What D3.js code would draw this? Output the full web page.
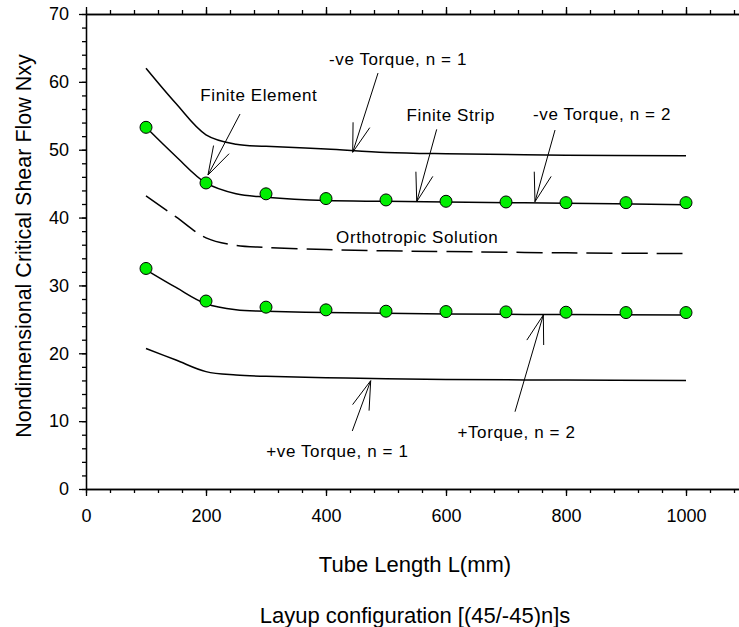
<!DOCTYPE html>
<html>
<head>
<meta charset="utf-8">
<script src="https://cdnjs.cloudflare.com/ajax/libs/d3/7.8.5/d3.min.js"></script>
<style>
  body { margin: 0; background: #fff; }
  svg { display: block; font-family: "Liberation Sans", Arial, sans-serif; }
  .axis path, .axis line { stroke: #000; stroke-width: 1.3; }
  .axis text { font-size: 18px; fill: #000; }
</style>
</head>
<body>
<svg id="chart" width="739" height="627"></svg>
<script>
// tube lengths used for the smooth curves
var curveX = [100, 150, 200, 250, 300, 400, 500, 600, 800, 1000];
var negTorque1 = [62.0, 56.8, 52.2, 50.8, 50.5, 50.1, 49.6, 49.4, 49.2, 49.1];
var negTorque2 = [53.3, 49.0, 45.1, 43.5, 43.0, 42.5, 42.4, 42.3, 42.1, 41.9];
var orthotropic = [43.2, 40.1, 37.0, 35.9, 35.6, 35.3, 35.1, 35.0, 34.8, 34.7];
var posTorque2 = [32.3, 29.7, 27.3, 26.4, 26.2, 26.0, 25.9, 25.8, 25.7, 25.65];
var posTorque1 = [20.7, 19.0, 17.3, 16.8, 16.6, 16.4, 16.25, 16.15, 16.05, 16.0];

// finite element results
var feX = [100, 200, 300, 400, 500, 600, 700, 800, 900, 1000];
var feNeg2 = [53.3, 45.1, 43.5, 42.8, 42.6, 42.4, 42.3, 42.2, 42.2, 42.2];
var fePos2 = [32.5, 27.7, 26.8, 26.4, 26.2, 26.15, 26.1, 26.05, 26.0, 26.0];

var xTicks = [0, 200, 400, 600, 800, 1000];
var yTicks = [0, 10, 20, 30, 40, 50, 60, 70];

// labels: text, x, y (data units, baseline centre)
var labels = [
    {text: '-ve Torque, n = 1', x: 520, y: 62.5},
    {text: 'Finite Element', x: 288, y: 57.25},
    {text: 'Finite Strip', x: 608, y: 54.3},
    {text: '-ve Torque, n = 2', x: 860, y: 54.4},
    {text: 'Orthotropic Solution', x: 552, y: 36.25},
    {text: '+ve Torque, n = 1', x: 419, y: 4.76},
    {text: '+Torque, n = 2', x: 717.5, y: 7.47}
];
// arrows: tail -> tip, data units
var arrows = [
    [256.7, 55.26, 203.3, 46.27],
    [486.7, 61.3, 444.5, 49.62],
    [584.5, 53.0, 551.2, 42.34],
    [781.7, 52.9, 748.3, 42.34],
    [443.8, 8.55, 474.5, 15.96],
    [715, 11.39, 762.2, 25.64]
];

var svg = d3.select('#chart');

var x = d3.scaleLinear().domain([0, 1100]).range([86, 746]),
    y = d3.scaleLinear().domain([0, 70]).range([489, 14]);

var minorX = d3.range(0, 1101, 40),
    minorY = d3.range(0, 71, 2);

// minor ticks
svg.append('g').attr('class', 'axis').attr('transform', 'translate(0,489)')
    .call(d3.axisBottom(x).tickValues(minorX).tickSize(4).tickSizeOuter(0).tickFormat(''));
svg.append('g').attr('class', 'axis').attr('transform', 'translate(0,14)')
    .call(d3.axisTop(x).tickValues(minorX).tickSize(4).tickSizeOuter(0).tickFormat(''));
svg.append('g').attr('class', 'axis').attr('transform', 'translate(86,0)')
    .call(d3.axisLeft(y).tickValues(minorY).tickSize(4).tickSizeOuter(0).tickFormat(''));

// major ticks
svg.append('g').attr('class', 'axis').attr('transform', 'translate(0,489)')
    .call(d3.axisBottom(x).tickValues(xTicks).tickSize(7).tickSizeOuter(0)
        .tickPadding(13).tickFormat(d3.format('d')));
svg.append('g').attr('class', 'axis').attr('transform', 'translate(0,14)')
    .call(d3.axisTop(x).tickValues(xTicks).tickSize(7).tickSizeOuter(0).tickFormat(''));
svg.append('g').attr('class', 'axis').attr('transform', 'translate(86,0)')
    .call(d3.axisLeft(y).tickValues(yTicks).tickSize(7).tickSizeOuter(0)
        .tickPadding(10).tickFormat(d3.format('d')));

svg.selectAll('.axis text').attr('font-family', null);

// curves
var line = d3.line()
    .x(function(d, i) { return x(curveX[i]); })
    .y(function(d) { return y(d); })
    .curve(d3.curveCatmullRom.alpha(0.5));

[negTorque1, negTorque2, posTorque2, posTorque1].forEach(function(s) {
    svg.append('path')
        .attr('d', line(s))
        .attr('fill', 'none')
        .attr('stroke', '#000')
        .attr('stroke-width', 1.5);
});

svg.append('path')
    .attr('d', line(orthotropic))
    .attr('fill', 'none')
    .attr('stroke', '#000')
    .attr('stroke-width', 1.5)
    .attr('stroke-dasharray', '26,9');

// finite element points
[feNeg2, fePos2].forEach(function(s) {
    svg.append('g').selectAll('circle')
        .data(s)
        .enter().append('circle')
        .attr('cx', function(d, i) { return x(feX[i]); })
        .attr('cy', function(d) { return y(d); })
        .attr('r', 6)
        .attr('fill', '#00ee00')
        .attr('stroke', '#000')
        .attr('stroke-width', 1);
});

// arrows with open heads
var headLen = 30, headAng = 17 * Math.PI / 180;
arrows.forEach(function(a) {
    var x0 = x(a[0]), y0 = y(a[1]), x1 = x(a[2]), y1 = y(a[3]);
    var ang = Math.atan2(y0 - y1, x0 - x1);
    var g = svg.append('g').attr('stroke', '#000').attr('stroke-width', 1);
    g.append('line').attr('x1', x0).attr('y1', y0).attr('x2', x1).attr('y2', y1);
    [-1, 1].forEach(function(s) {
        g.append('line')
            .attr('x1', x1).attr('y1', y1)
            .attr('x2', x1 + headLen * Math.cos(ang + s * headAng))
            .attr('y2', y1 + headLen * Math.sin(ang + s * headAng));
    });
});

svg.append('g').selectAll('text')
    .data(labels)
    .enter().append('text')
    .attr('x', function(d) { return x(d.x); })
    .attr('y', function(d) { return y(d.y); })
    .attr('text-anchor', 'middle')
    .attr('font-size', 17)
    .attr('letter-spacing', 0.6)
    .text(function(d) { return d.text; });

// axis titles
svg.append('text')
    .attr('x', 415).attr('y', 572)
    .attr('text-anchor', 'middle')
    .attr('font-size', 22)
    .text('Tube Length L(mm)');

svg.append('text')
    .attr('x', 415).attr('y', 623)
    .attr('text-anchor', 'middle')
    .attr('font-size', 22)
    .text('Layup configuration [(45/-45)n]s');

svg.append('text')
    .attr('transform', 'translate(31,246) rotate(-90)')
    .attr('text-anchor', 'middle')
    .attr('font-size', 21.5)
    .text('Nondimensional Critical Shear Flow Nxy');
</script>
</body>
</html>
